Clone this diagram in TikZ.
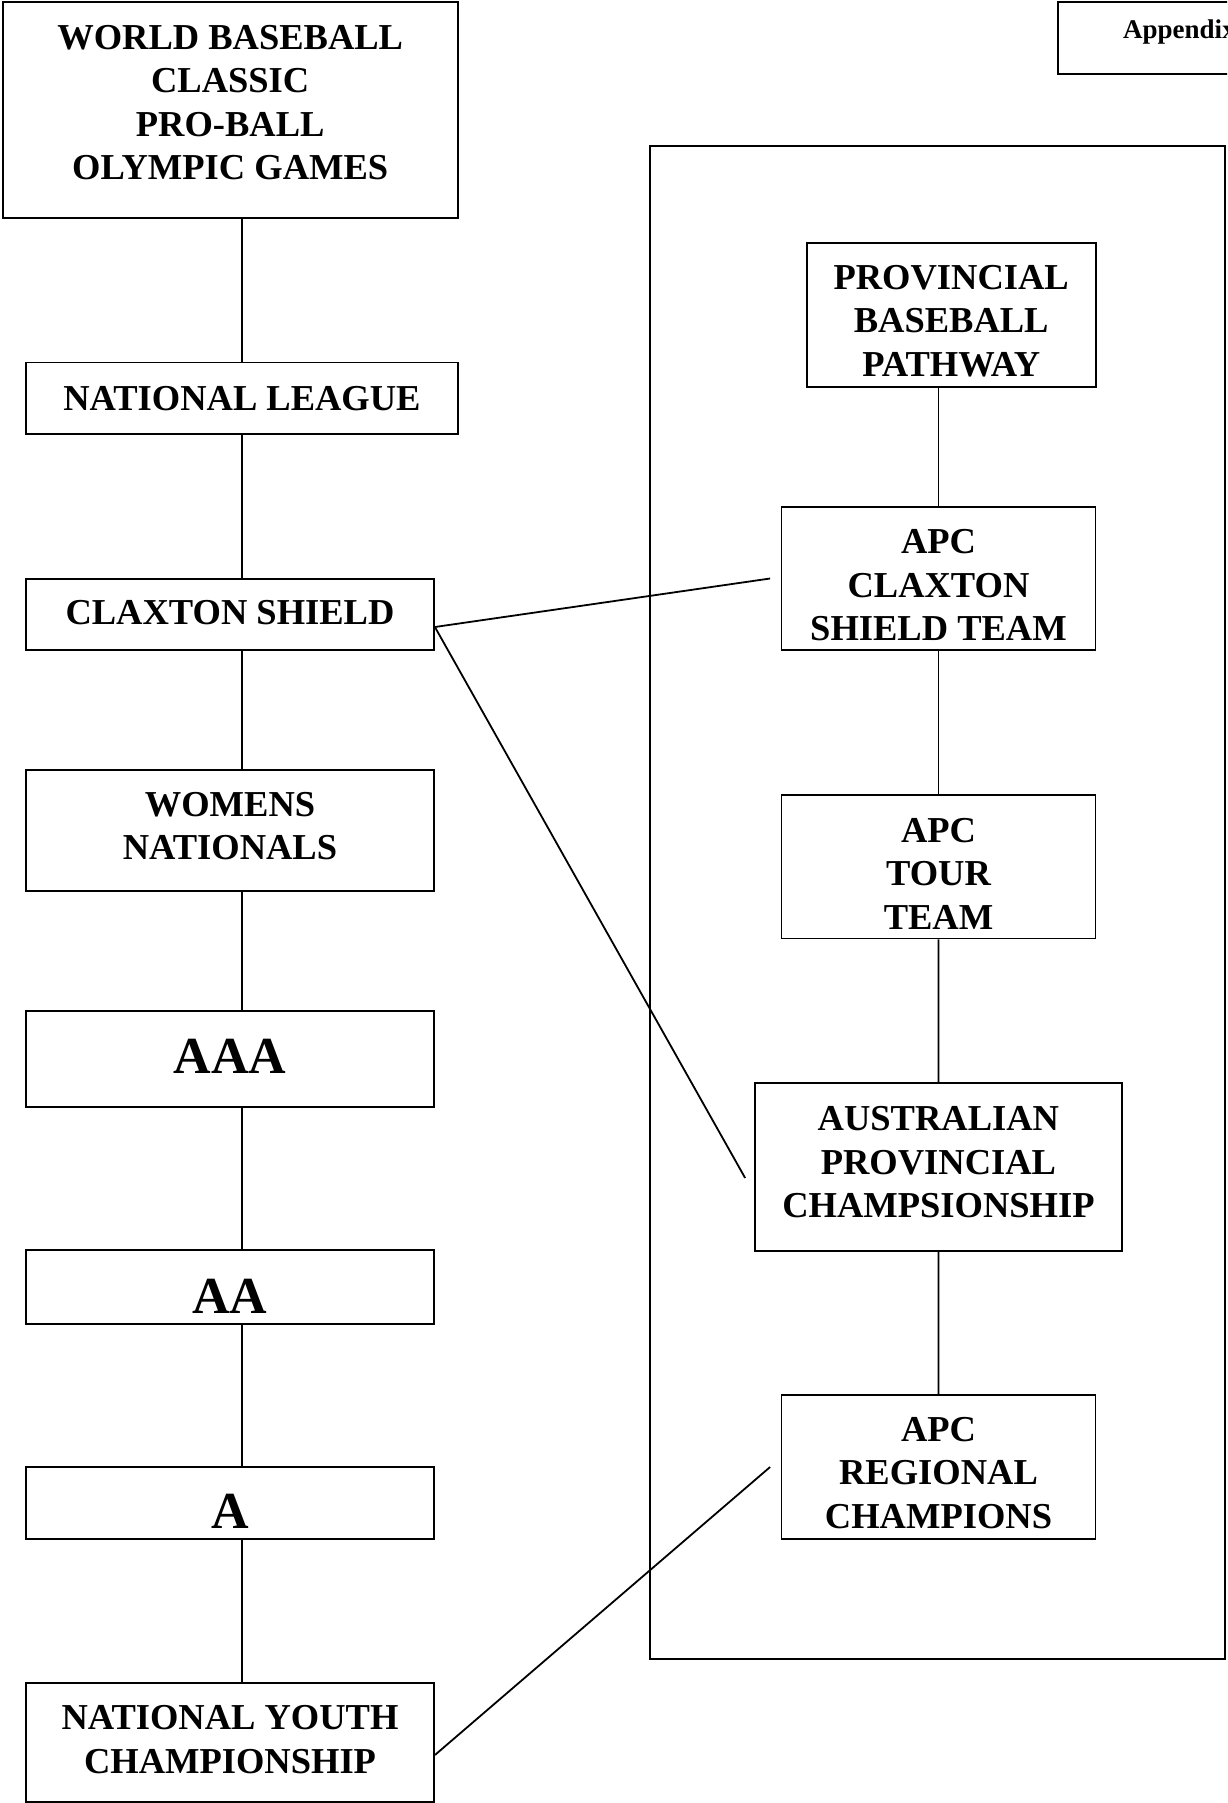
\documentclass[tikz,border=0pt]{standalone}
\usepackage{fontspec}
\setmainfont{Liberation Serif}
\begin{document}
\begin{tikzpicture}[x=1pt,y=-1pt,
		box/.style={draw, line width=1.8pt, inner sep=0pt, align=center,
			font=\fontsize{36.5}{43.5}\selectfont\bfseries},
		bigbox/.style={box, font=\fontsize{52}{60}\selectfont\bfseries},
		link/.style={line width=1.8pt}]
			% Page
			\useasboundingbox (0,0) rectangle (1227,1803);
			\clip (0,0) rectangle (1227,1803);
			
			% Appendix tab
			\draw[link] (1058,2) rectangle (1260,74);
			\node[anchor=base west, inner sep=0pt, font=\fontsize{27}{32}\selectfont\bfseries] (appx) at (1123,39) {Appendix};
			
			% Provincial frame
			\draw[link] (650,146) rectangle (1225,1659);
			
			% Left column
			\node[box, minimum width=455, minimum height=216, text depth=15] (wbc) at (230.2,110) {WORLD BASEBALL\\CLASSIC\\PRO-BALL\\OLYMPIC GAMES};
			\node[box, minimum width=432, minimum height=71.5] (nl) at (242,398.3) {NATIONAL LEAGUE};
			\node[box, minimum width=408, minimum height=71, text depth=4] (cs) at (230,614.5) {CLAXTON SHIELD};
			\node[box, minimum width=408, minimum height=121, text depth=9] (wn) at (230,830.5) {WOMENS\\NATIONALS};
			\node[bigbox, minimum width=408, minimum height=95.7, text depth=4] (aaa) at (230,1058.8) {AAA};
			\node[bigbox, minimum width=408, minimum height=73.6, text height=53] (aa) at (230,1286.8) {AA};
			\node[bigbox, minimum width=408, minimum height=72, text height=51] (a) at (230,1503) {A};
			\node[box, minimum width=408, minimum height=119, text depth=6] (nyc) at (230,1742.5) {NATIONAL YOUTH\\CHAMPIONSHIP};
			
			% Right column
			\node[box, minimum width=289, minimum height=144, text height=124] (pbp) at (951.2,314.7) {PROVINCIAL\\BASEBALL\\PATHWAY};
			\node[box, minimum width=314, minimum height=143, text height=125] (acst) at (938.5,578.5) {APC\\CLAXTON\\SHIELD TEAM};
			\node[box, minimum width=314, minimum height=143.8, text height=125.5] (att) at (938.5,866.5) {APC\\TOUR\\TEAM};
			\node[box, minimum width=366.7, minimum height=168, text depth=10] (apc) at (938.4,1167) {AUSTRALIAN\\PROVINCIAL\\CHAMPSIONSHIP};
			\node[box, minimum width=314, minimum height=144, text height=122.5] (aprc) at (938.5,1467) {APC\\REGIONAL\\CHAMPIONS};
			
			% Vertical links
			\draw[link] (wbc.south -| nl) -- (nl.north);
			\draw[link] (nl.south) -- (cs.north -| nl);
			\foreach \u/\v in {cs/wn, wn/aaa, aaa/aa, aa/a, a/nyc}
				\draw[link] (\u.south -| nl) -- (\v.north -| nl);
			\draw[link] (pbp.south -| acst) -- (acst.north);
			\foreach \u/\v in {acst/att, att/apc, apc/aprc}
				\draw[link] (\u.south) -- (\v.north);
			
			% Cross links
			\draw[link] ([yshift=-12.5pt]cs.east) -- ([xshift=-10.5pt]acst.west);
			\draw[link] ([yshift=-12.5pt]cs.east) -- ([xshift=-9pt,yshift=-11pt]apc.west);
			\draw[link] ([yshift=-12.5pt]nyc.east) -- ([xshift=-10.5pt]aprc.west);
		\end{tikzpicture}
\end{document}
